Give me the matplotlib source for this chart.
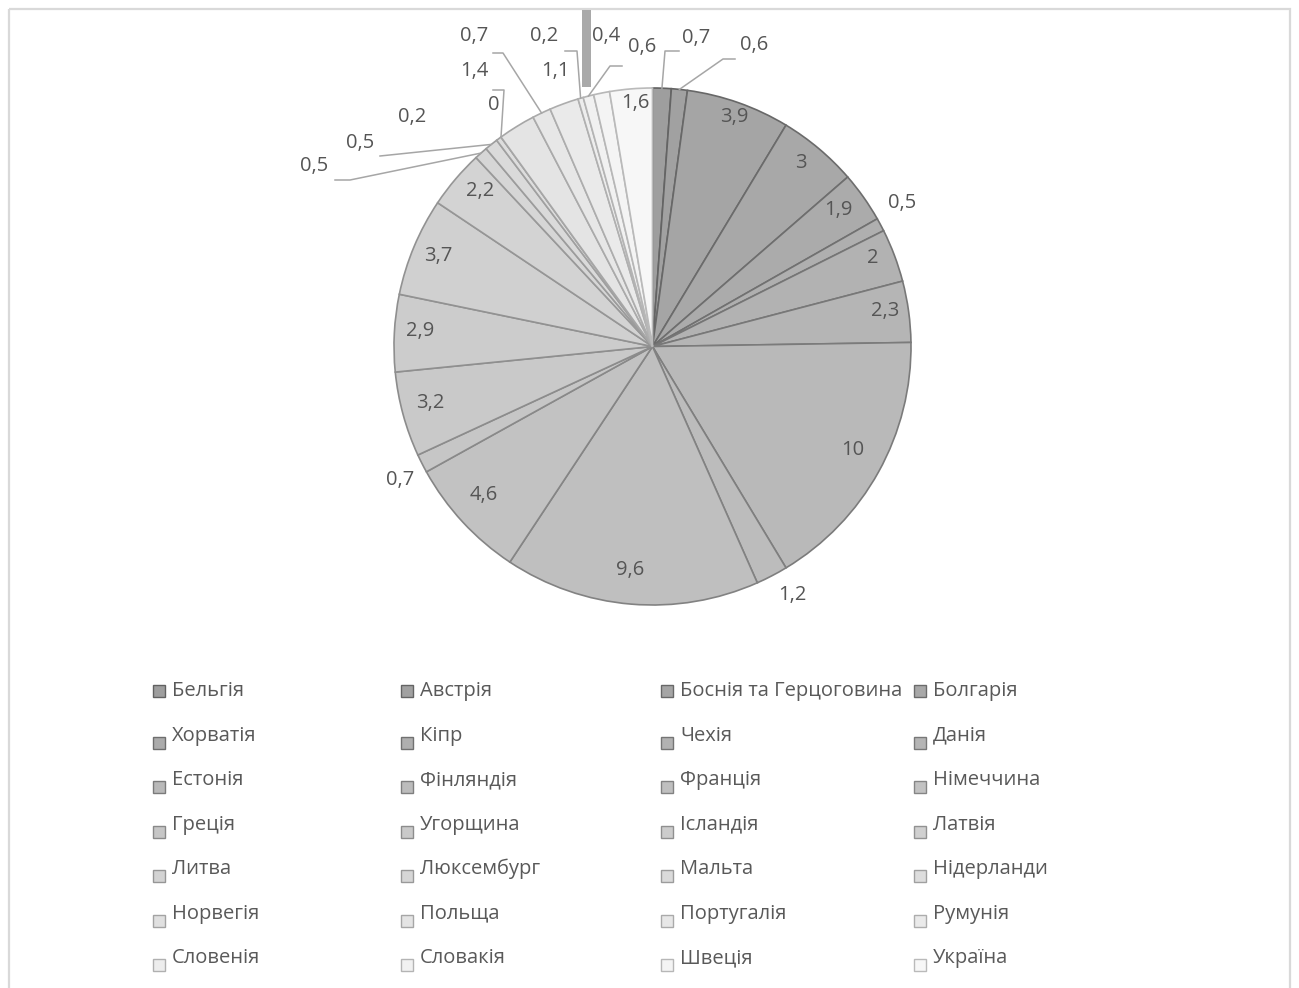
import numpy as np
import matplotlib
matplotlib.use("Agg")
import matplotlib.pyplot as plt
from matplotlib.patches import Rectangle

plt.rcParams['font.family'] = ['Open Sans', 'DejaVu Sans']

# countries and their values (clockwise from 12 o'clock)
countries = ["Бельгія", "Австрія", "Боснія та Герцоговина", "Болгарія",
             "Хорватія", "Кіпр", "Чехія", "Данія",
             "Естонія", "Фінляндія", "Франція", "Німеччина",
             "Греція", "Угорщина", "Ісландія", "Латвія",
             "Литва", "Люксембург", "Мальта", "Нідерланди",
             "Норвегія", "Польща", "Португалія", "Румунія",
             "Словенія", "Словакія", "Швеція", "Україна"]
values = [0.7, 0.6, 3.9, 3, 1.9, 0.5, 2, 2.3,
          10, 1.2, 9.6, 4.6, 0.7, 3.2, 2.9, 3.7,
          2.2, 0.5, 0.5, 0.2, 0, 1.4, 0.7, 1.1,
          0.2, 0.4, 0.6, 1.6]

# label placement in pixels, and leader elbows for the crowded ones
label_pos = [(696, 38), (754, 45), (734, 117), (801, 163),
             (838, 210), (902, 203), (873, 258), (885, 311),
             (853, 450), (792, 595), (630, 570), (484, 495),
             (400, 480), (430, 403), (420, 331), (438, 256),
             (480, 191), (314, 166), (360, 143), (412, 117),
             (494, 105), (474, 71), (474, 36), (555, 71),
             (544, 36), (606, 36), (642, 47), (635, 103)]
leaders = {0: [(679, 51), (665, 51)],
           1: [(735, 59), (723, 59)],
           17: [(335, 180), (350, 180)],
           18: [(380, 156)],
           20: [(493, 90), (504, 90)],
           22: [(493, 53), (503, 53)],
           24: [(565, 51), (577, 51)],
           25: [(622, 66), (610, 66)]}

W, H = 1299, 988
cx, cy, R = 652.5, 346.5, 258.5
fsize = 14.5

fig = plt.figure(figsize=(W / 100, H / 100), dpi=100)
ax = fig.add_axes([0, 0, 1, 1])

levels = np.linspace(0.62, 0.97, len(values))
fills = [(g, g, g) for g in levels]
edges = [(g - 0.24, g - 0.24, g - 0.24) for g in levels]

wedges, _ = ax.pie(values, colors=fills, center=(cx, cy), radius=R,
                   startangle=-90, counterclock=True,
                   wedgeprops=dict(linewidth=1.2))
for w, ec in zip(wedges, edges):
    w.set_edgecolor(ec)

# pixel-like coordinates, y pointing down
ax.set_xlim(0, W)
ax.set_ylim(H, 0)
ax.set_aspect('equal')
ax.axis('off')

total = sum(values)
cum = np.cumsum([0] + values[:-1])
txt_color = '#555555'
for i, v in enumerate(values):
    lx, ly = label_pos[i]
    label = ('%g' % v).replace('.', ',')
    ax.text(lx, ly, label, ha='center', va='center', fontsize=fsize, color=txt_color)
    if i in leaders:
        ang = np.deg2rad(-90 + 360 * (cum[i] + v / 2) / total)
        end = (cx + R * np.cos(ang), cy + R * np.sin(ang))
        pts = leaders[i] + [end]
        ax.plot([p[0] for p in pts], [p[1] for p in pts], color='#a6a6a6', lw=1.1)

# legend grid, 4 columns
col_x = [172, 420, 680, 933]
row_y0, row_dy = 691, 44.5
for i, name in enumerate(countries):
    r, c = divmod(i, 4)
    tx = col_x[c]
    ty = row_y0 + r * row_dy
    sq_y = ty - 6 if r == 0 else ty + 1
    ax.add_patch(Rectangle((tx - 19, sq_y), 12, 12, facecolor=fills[i],
                           edgecolor=edges[i], lw=1.0))
    ax.text(tx, ty, name, ha='left', va='center', fontsize=fsize, color='#595959')

# chart frame and the grey bar above the pie
ax.add_patch(Rectangle((9, 9), 1281, 1000, facecolor='none', edgecolor='#d9d9d9', lw=1.6))
ax.add_patch(Rectangle((582, 10), 9, 77, facecolor='#a9a9a9', edgecolor='none'))

fig.savefig('out.png', dpi=100)
